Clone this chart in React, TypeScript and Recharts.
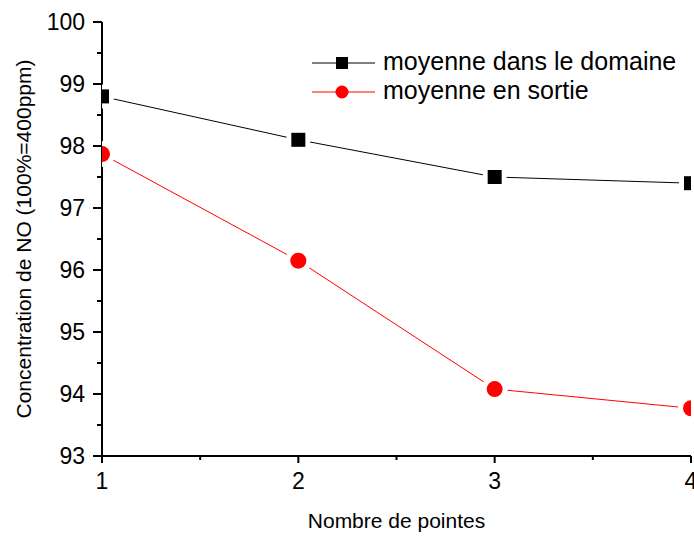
import { LineChart, Line, XAxis, YAxis, Legend, Label } from 'recharts';

const pointes = [1, 2, 3, 4];
const moyenneDomaine = [98.8, 98.1, 97.5, 97.4];
const moyenneSortie = [97.87, 96.15, 94.08, 93.77];

const xTicks = [1, 1.5, 2, 2.5, 3, 3.5, 4];
const yTicks = [93, 93.5, 94, 94.5, 95, 95.5, 96, 96.5, 97, 97.5, 98, 98.5, 99, 99.5, 100];

const data = pointes.map((p, i) => ({
  pointes: p,
  domaine: moyenneDomaine[i],
  sortie: moyenneSortie[i],
}));

const FONT = 'Liberation Sans, Arial, sans-serif';

const isMajor = (v: number) => Number.isInteger(v);

// ticks drawn by hand so they can point in or out like the original
const BottomTick = ({ x, y, payload }: any) => {
  const major = isMajor(payload.value);
  return (
    <g>
      <line x1={x} y1={y} x2={x} y2={y + (major ? 7 : 4)} stroke="#000" strokeWidth={2} />
      {major && (
        <text x={x} y={y + 33} textAnchor="middle" fontSize={23} fontFamily={FONT} fill="#000">
          {payload.value}
        </text>
      )}
    </g>
  );
};

const LeftTick = ({ x, y, payload }: any) => {
  const major = isMajor(payload.value);
  return (
    <g>
      <line x1={x - (major ? 9 : 5)} y1={y} x2={x} y2={y} stroke="#000" strokeWidth={2} />
      {major && (
        <text x={x - 17} y={y + 8} textAnchor="end" fontSize={23} fontFamily={FONT} fill="#000">
          {payload.value}
        </text>
      )}
    </g>
  );
};

const TopTick = ({ x, y, payload }: any) => (
  <line x1={x} y1={y} x2={x} y2={y + (isMajor(payload.value) ? 7 : 4)} stroke="#000" strokeWidth={2} />
);

const RightTick = ({ x, y, payload }: any) => (
  <line x1={x - (isMajor(payload.value) ? 9 : 5)} y1={y} x2={x} y2={y} stroke="#000" strokeWidth={2} />
);

// white halo behind each marker gives the small gap between line and symbol
const SquareDot = ({ cx, cy, index }: any) => (
  <g key={`sq-${index}`}>
    <circle cx={cx} cy={cy} r={12} fill="#fff" />
    <rect x={cx - 7} y={cy - 7} width={14} height={14} fill="#000" />
  </g>
);

const RoundDot = ({ cx, cy, index }: any) => (
  <g key={`ci-${index}`}>
    <circle cx={cx} cy={cy} r={13} fill="#fff" />
    <circle cx={cx} cy={cy} r={8} fill="#ff0000" />
  </g>
);

const legendItems = [
  { label: 'moyenne dans le domaine', color: '#000', shape: 'square' },
  { label: 'moyenne en sortie', color: '#ff0000', shape: 'circle' },
];

const renderLegend = () => (
  <svg width={390} height={70}>
    {legendItems.map((item, i) => {
      const cy = 23 + i * 29;
      return (
        <g key={item.label}>
          <line x1={12} y1={cy} x2={75} y2={cy} stroke={item.color} strokeWidth={1} />
          {item.shape === 'square' ? (
            <rect x={36} y={cy - 6} width={12} height={12} fill={item.color} />
          ) : (
            <circle cx={42} cy={cy} r={6.5} fill={item.color} />
          )}
          <text x={83} y={cy + 7} fontSize={25} fontFamily={FONT} fill="#000">
            {item.label}
          </text>
        </g>
      );
    })}
  </svg>
);

export default function App() {
  return (
    <div style={{ position: 'absolute', left: 0, top: 0, background: '#fff' }}>
      <LineChart width={694} height={536} data={data} margin={{ top: 22, right: 3, bottom: 0, left: 0 }}>
        <Line
          dataKey="domaine"
          stroke="#000"
          strokeWidth={1}
          dot={<SquareDot />}
          isAnimationActive={false}
        />
        <Line
          dataKey="sortie"
          stroke="#ff0000"
          strokeWidth={1}
          dot={<RoundDot />}
          isAnimationActive={false}
        />
        <XAxis
          dataKey="pointes"
          type="number"
          domain={[1, 4]}
          ticks={xTicks}
          interval={0}
          allowDataOverflow
          height={80}
          tickSize={0}
          tickMargin={0}
          tickLine={false}
          tick={<BottomTick />}
          axisLine={{ stroke: '#000', strokeWidth: 2 }}
        >
          <Label
            content={({ viewBox }: any) => (
              <text
                x={viewBox.x + viewBox.width / 2}
                y={viewBox.y + 72}
                textAnchor="middle"
                fontSize={21}
                fontFamily={FONT}
                fill="#000"
              >
                Nombre de pointes
              </text>
            )}
          />
        </XAxis>
        <XAxis
          xAxisId="top"
          orientation="top"
          dataKey="pointes"
          type="number"
          domain={[1, 4]}
          ticks={xTicks}
          interval={0}
          height={0}
          tickSize={0}
          tickMargin={0}
          tickLine={false}
          tick={<TopTick />}
          axisLine={{ stroke: '#000', strokeWidth: 2 }}
        />
        <YAxis
          type="number"
          domain={[93, 100]}
          ticks={yTicks}
          interval={0}
          allowDataOverflow
          width={102}
          tickSize={0}
          tickMargin={0}
          tickLine={false}
          tick={<LeftTick />}
          axisLine={{ stroke: '#000', strokeWidth: 2 }}
        >
          <Label
            content={({ viewBox }: any) => {
              const cy = viewBox.y + viewBox.height / 2;
              return (
                <text
                  x={31}
                  y={cy}
                  transform={`rotate(-90, 31, ${cy})`}
                  textAnchor="middle"
                  fontSize={21}
                  fontFamily={FONT}
                  fill="#000"
                >
                  Concentration de NO (100%=400ppm)
                </text>
              );
            }}
          />
        </YAxis>
        <YAxis
          yAxisId="right"
          orientation="right"
          type="number"
          domain={[93, 100]}
          ticks={yTicks}
          interval={0}
          width={0}
          tickSize={0}
          tickMargin={0}
          tickLine={false}
          tick={<RightTick />}
          axisLine={{ stroke: '#000', strokeWidth: 2 }}
        />
        <Legend
          layout="horizontal"
          verticalAlign="middle"
          align="center"
          content={renderLegend}
          wrapperStyle={{ left: 300, top: 40, width: 390, height: 70 }}
        />
      </LineChart>
    </div>
  );
}
